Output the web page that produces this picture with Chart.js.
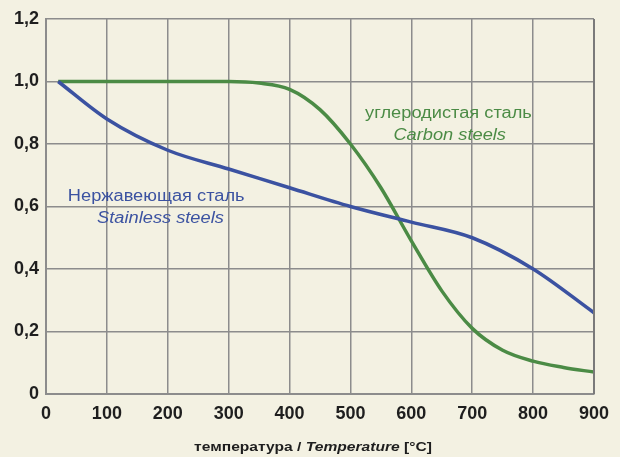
<!DOCTYPE html>
<html>
<head>
<meta charset="utf-8">
<script src="https://cdn.jsdelivr.net/npm/chart.js@4"></script>
<style>
  html, body { margin: 0; padding: 0; background: #f3f1e2; }
  #wrap { width: 620px; height: 457px; }
</style>
</head>
<body>
<div id="wrap"><canvas id="steelChart" width="620" height="457"></canvas></div>
<script>
// temperatures (°C) and reduction factors
const stainlessT = [20, 100, 200, 300, 400, 500, 600, 700, 800, 900];
const stainlessK = [1.0, 0.88, 0.78, 0.72, 0.66, 0.60, 0.55, 0.50, 0.40, 0.26];

const carbonT = [20, 100, 200, 300, 350, 400, 450, 500, 550, 600, 650, 700, 750, 800, 850, 900];
const carbonK = [1.0, 1.0, 1.0, 1.0, 0.995, 0.975, 0.91, 0.80, 0.66, 0.49, 0.33, 0.21, 0.14, 0.105, 0.085, 0.07];

const xTicks = [0, 100, 200, 300, 400, 500, 600, 700, 800, 900];
const yTicks = [0, 0.2, 0.4, 0.6, 0.8, 1.0, 1.2];
const yTickLabels = ['0', '0,2', '0,4', '0,6', '0,8', '1,0', '1,2'];

const blue = '#3b52a1';
const green = '#4b8b45';
const font = '"Liberation Sans", Arial, sans-serif';

// labels inside the plot (data coordinates of the text baseline centre)
const curveLabels = [
    { text: 'Нержавеющая сталь', x: 181, y: 0.618, italic: false, color: blue },
    { text: 'Stainless steels', x: 188, y: 0.547, italic: true, color: blue },
    { text: 'углеродистая сталь', x: 661, y: 0.883, italic: false, color: green },
    { text: 'Carbon steels', x: 663, y: 0.813, italic: true, color: green }
];

const toPoints = (xs, ys) => xs.map((x, i) => ({ x: x, y: ys[i] }));

// the reference text is a bit wider than Arial, so stretch it horizontally
function wideText(ctx, text, x, y, stretch) {
    ctx.save();
    ctx.translate(x, y);
    ctx.scale(stretch, 1);
    ctx.fillText(text, 0, 0);
    ctx.restore();
}

const labelsPlugin = {
    id: 'curveLabels',
    afterDatasetsDraw(chart) {
        const ctx = chart.ctx;
        const sx = chart.scales.x, sy = chart.scales.y;
        ctx.save();
        ctx.textAlign = 'center';
        ctx.textBaseline = 'alphabetic';
        curveLabels.forEach(l => {
            ctx.font = (l.italic ? 'italic ' : '') + '16px ' + font;
            ctx.fillStyle = l.color;
            wideText(ctx, l.text, sx.getPixelForValue(l.x), sy.getPixelForValue(l.y), 1.14);
        });

        // axis title with mixed styles
        const stretch = 1.2;
        const parts = [
            { t: 'температура / ', f: 'bold 13px ' + font },
            { t: 'Temperature', f: 'italic bold 13px ' + font },
            { t: ' [°C]', f: 'bold 13px ' + font }
        ];
        ctx.textAlign = 'left';
        ctx.fillStyle = '#1e1e1e';
        let total = 0;
        parts.forEach(p => { ctx.font = p.f; total += ctx.measureText(p.t).width * stretch; });
        let x = 313 - total / 2;
        parts.forEach(p => {
            ctx.font = p.f;
            wideText(ctx, p.t, x, 451, stretch);
            x += ctx.measureText(p.t).width * stretch;
        });

        // right edge of plot
        ctx.strokeStyle = '#7a7a7a';
        ctx.lineWidth = 2;
        ctx.beginPath();
        ctx.moveTo(chart.chartArea.right, chart.chartArea.top);
        ctx.lineTo(chart.chartArea.right, chart.chartArea.bottom);
        ctx.stroke();
        ctx.restore();
    }
};

const config = {
    type: 'line',
    data: {
        datasets: [
            {
                label: 'Stainless steels',
                data: toPoints(stainlessT, stainlessK),
                borderColor: blue,
                borderWidth: 3.5,
                pointRadius: 0,
                cubicInterpolationMode: 'monotone'
            },
            {
                label: 'Carbon steels',
                data: toPoints(carbonT, carbonK),
                borderColor: green,
                borderWidth: 3.5,
                pointRadius: 0,
                cubicInterpolationMode: 'monotone'
            }
        ]
    },
    options: {
        responsive: false,
        animation: false,
        layout: {
            padding: { left: 0, right: 26, top: 19, bottom: 0 }
        },
        plugins: {
            legend: { display: false },
            tooltip: { enabled: false }
        },
        scales: {
            x: {
                type: 'linear',
                min: 0,
                max: 900,
                afterBuildTicks: s => { s.ticks = xTicks.map(v => ({ value: v })); },
                afterFit: s => { s.height = 63; },
                grid: { color: '#8c8c8c', lineWidth: 1.5, drawTicks: false },
                border: { color: '#8c8c8c', width: 2 },
                ticks: {
                    color: '#1e1e1e',
                    padding: 9,
                    maxRotation: 0,
                    font: { family: font, size: 18, weight: 'bold' }
                }
            },
            y: {
                min: 0,
                max: 1.2,
                afterBuildTicks: s => { s.ticks = yTicks.map(v => ({ value: v })); },
                afterFit: s => { s.width = 46; },
                grid: { color: '#8c8c8c', lineWidth: 1.5, drawTicks: false },
                border: { color: '#8c8c8c', width: 2 },
                ticks: {
                    color: '#1e1e1e',
                    padding: 7,
                    callback: v => {
                        const i = yTicks.findIndex(t => Math.abs(t - v) < 1e-6);
                        return i >= 0 ? yTickLabels[i] : '';
                    },
                    font: { family: font, size: 18, weight: 'bold' }
                }
            }
        }
    },
    plugins: [labelsPlugin]
};

const ctx = document.getElementById('steelChart').getContext('2d');
new Chart(ctx, config);
</script>
</body>
</html>
